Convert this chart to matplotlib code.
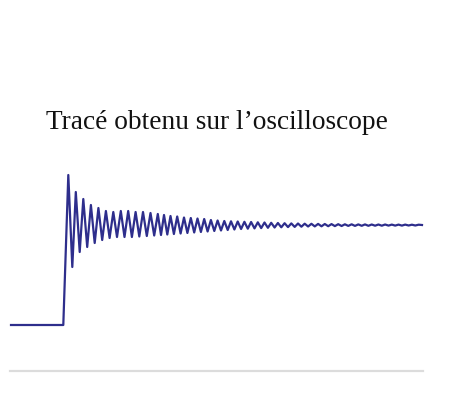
import matplotlib
matplotlib.use("Agg")
import matplotlib.pyplot as plt
import numpy as np

# ---- data (time in ms, voltage in V) ----
title_text = "Tracé obtenu sur l\u2019oscilloscope"

baseline_t = [-5.2, 0.03]
baseline_v = [0.0, 0.0]

peak_t = [0.53, 1.28, 2.03, 2.79, 3.54, 4.29, 5.03, 5.78, 6.52, 7.26,
          8.00, 8.75, 9.48, 10.10, 10.75, 11.42, 12.10, 12.78, 13.45, 14.12,
          14.79, 15.46, 16.13, 16.80, 17.47, 18.14, 18.81, 19.48, 20.15, 20.82,
          21.49, 22.16, 22.83, 23.50, 24.17, 24.84, 25.51, 26.18, 26.85, 27.52,
          28.19, 28.86, 29.53, 30.20, 30.87, 31.54, 32.21, 32.88, 33.55, 34.22,
          34.89, 35.56]
peak_v = [1.50, 1.33, 1.26, 1.20, 1.17, 1.14, 1.13, 1.14, 1.14, 1.13,
          1.13, 1.12, 1.11, 1.10, 1.09, 1.085, 1.075, 1.07, 1.065, 1.06,
          1.05, 1.045, 1.04, 1.037, 1.035, 1.032, 1.03, 1.027, 1.025, 1.022,
          1.02, 1.018, 1.016, 1.015, 1.013, 1.012, 1.011, 1.01, 1.009, 1.008,
          1.007, 1.007, 1.006, 1.006, 1.005, 1.005, 1.005, 1.004, 1.004, 1.004,
          1.003, 1.003]

trough_t = [0.93, 1.67, 2.42, 3.17, 3.92, 4.66, 5.40, 6.15, 6.89, 7.63,
            8.38, 9.12, 9.80, 10.43, 11.09, 11.76, 12.44, 13.12, 13.79, 14.46,
            15.13, 15.80, 16.47, 17.14, 17.81, 18.48, 19.15, 19.82, 20.49, 21.16,
            21.83, 22.50, 23.17, 23.84, 24.51, 25.18, 25.85, 26.52, 27.19, 27.86,
            28.53, 29.20, 29.87, 30.54, 31.21, 31.88, 32.55, 33.22, 33.89, 34.56,
            35.23]
trough_v = [0.58, 0.73, 0.78, 0.82, 0.85, 0.87, 0.88, 0.88, 0.88, 0.885,
            0.89, 0.895, 0.90, 0.905, 0.91, 0.915, 0.92, 0.925, 0.93, 0.935,
            0.94, 0.945, 0.95, 0.955, 0.96, 0.963, 0.966, 0.969, 0.972, 0.975,
            0.977, 0.979, 0.981, 0.983, 0.985, 0.986, 0.987, 0.988, 0.989, 0.99,
            0.991, 0.991, 0.992, 0.992, 0.993, 0.993, 0.994, 0.994, 0.994, 0.995,
            0.995]

end_t = [35.9]
end_v = [1.0]

# ---- assemble the trace ----
t = list(baseline_t)
v = list(baseline_v)
ext = sorted(zip(peak_t + trough_t, peak_v + trough_v))
t += [p[0] for p in ext] + end_t
v += [p[1] for p in ext] + end_v

fig = plt.figure(figsize=(4.53, 4.03), dpi=100)
ax = fig.add_axes([0, 0, 1, 1])
ax.set_xlim(-6.3, 39.0)
ax.set_ylim(-0.78, 3.25)
ax.axis("off")

ax.plot(t, v, color="#2E2E8C", lw=1.6, solid_joinstyle="round")

# light separator line under the trace
ax.axhline(-0.46, xmin=10 / 453, xmax=423 / 453, color="#DCDCDC", lw=1.6)

fig.text(0.479, 1 - 129 / 403, title_text, ha="center", va="baseline",
         fontsize=19.7, family="Liberation Serif", color="#111111")

fig.savefig("out.png", dpi=100)
